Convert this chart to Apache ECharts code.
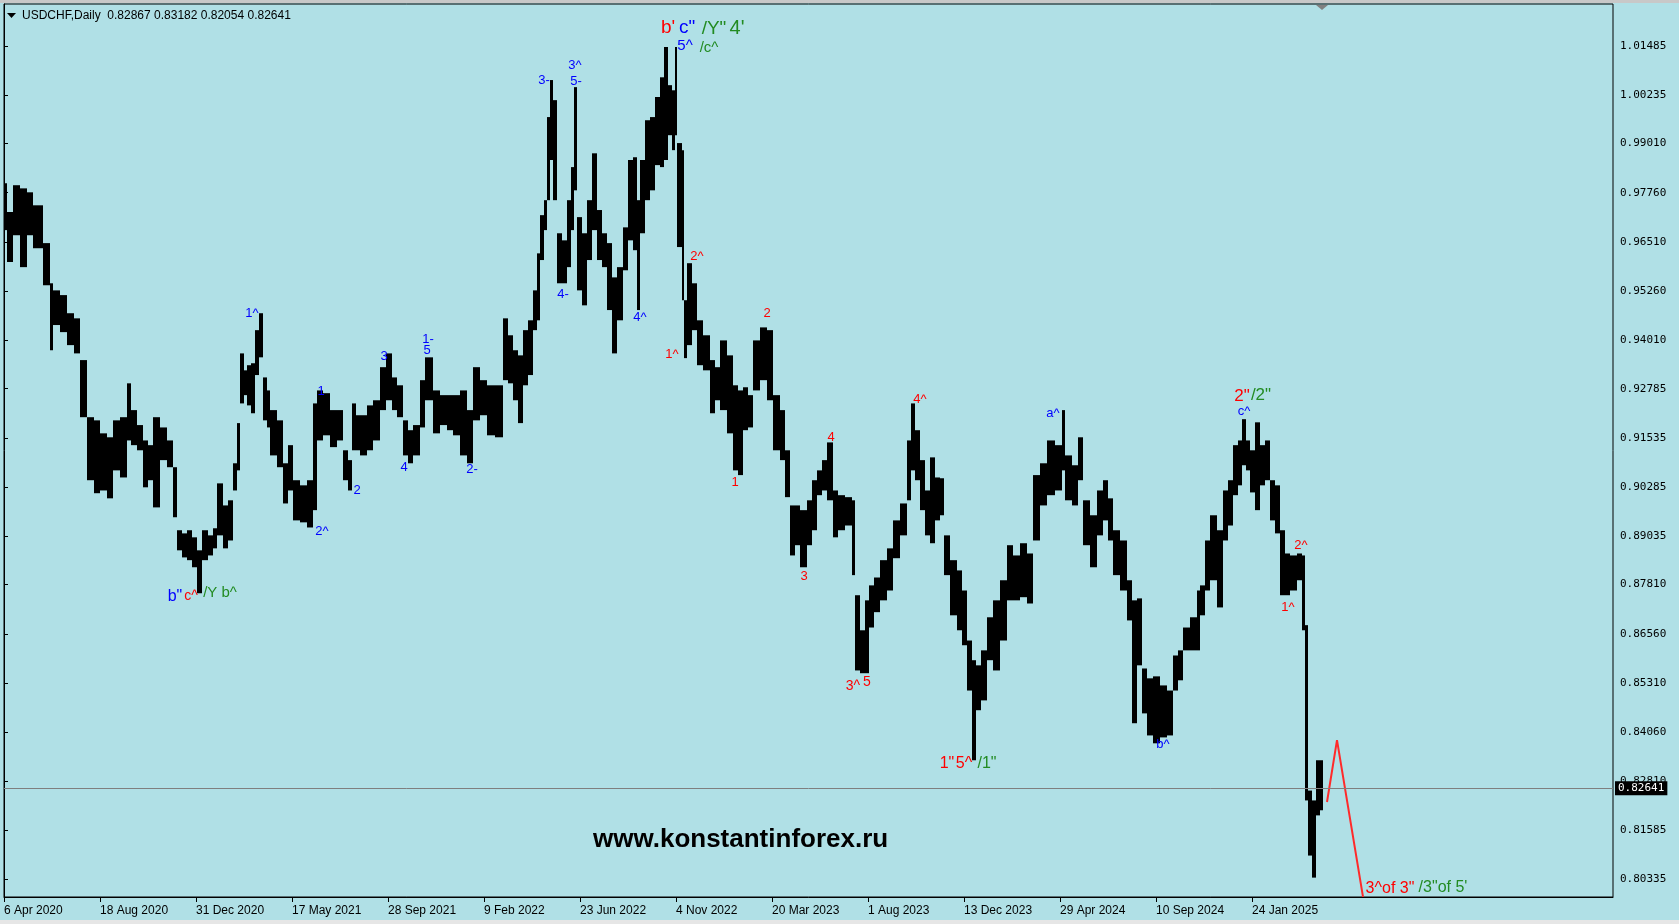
<!DOCTYPE html>
<html><head><meta charset="utf-8">
<script src="https://cdn.jsdelivr.net/npm/echarts@6/dist/echarts.min.js"></script>
<style>html,body{margin:0;padding:0;background:#B0E0E6;overflow:hidden}#c{width:1679px;height:924px}</style>
</head><body><div id="c"></div>
<script>
// ---------------- DATA ----------------
const symbolName = 'USDCHF,Daily';
const lastOHLC = ['0.82867', '0.83182', '0.82054', '0.82641'];
const lastClose = 0.82641;

const dateTickIdx = [0, 96, 192, 288, 384, 480, 576, 672, 768, 864, 960, 1056, 1152, 1248];
const dateLabels = ['6 Apr 2020', '18 Aug 2020', '31 Dec 2020', '17 May 2021', '28 Sep 2021', '9 Feb 2022',
  '23 Jun 2022', '4 Nov 2022', '20 Mar 2023', '1 Aug 2023', '13 Dec 2023', '29 Apr 2024', '10 Sep 2024', '24 Jan 2025'];
const priceTicks = [1.01485, 1.00235, 0.99010, 0.97760, 0.96510, 0.95260, 0.94010, 0.92785, 0.91535,
  0.90285, 0.89035, 0.87810, 0.86560, 0.85310, 0.84060, 0.82810, 0.81585, 0.80335];

// price bars: each group of daily bars starts at barStart (bar number) and spans to the next start
const barStart = [
  0,3,9,16,23,29,39,46,49,56,
  63,70,76,83,90,96,103,109,116,123,
  127,133,139,144,149,156,163,169,173,178,
  183,188,193,198,204,209,213,219,224,229,
  233,236,240,243,247,251,255,259,263,266,
  273,279,284,289,296,303,309,313,319,326,
  333,339,344,348,352,356,363,369,376,382,
  388,393,399,404,409,416,421,429,436,443,
  449,456,463,469,476,483,491,499,504,509,
  514,519,524,529,533,536,540,543,546,549,
  553,558,563,567,570,573,578,583,588,593,
  598,603,608,613,619,624,629,633,636,641,
  646,651,656,660,664,668,671,673,678,680,
  683,688,693,699,706,711,716,723,729,734,
  739,744,749,756,763,769,776,781,786,791,
  796,803,808,813,818,823,829,834,841,848,
  851,856,861,865,870,876,883,889,896,903,
  907,911,916,921,926,931,936,940,946,953,
  958,963,968,972,977,983,989,996,1003,1009,
  1016,1023,1029,1036,1043,1051,1058,1061,1068,1074,
  1079,1086,1093,1099,1104,1109,1116,1123,1128,1133,
  1138,1143,1149,1156,1163,1169,1174,1179,1186,1193,
  1196,1201,1206,1213,1219,1224,1229,1234,1238,1242,
  1246,1251,1256,1261,1266,1271,1276,1281,1286,1293,
  1298,1301,1304,1308,1312,1316];
const lastBarEnd = 1319;
const barHigh = [
  0.9800,0.9727,0.9795,0.9787,0.9777,0.9744,0.9648,0.9546,0.9528,0.9516,
  0.9470,0.9457,0.9351,0.9206,0.9198,0.9165,0.9155,0.9198,0.9206,0.9292,
  0.9224,0.9186,0.9147,0.9135,0.9206,0.9180,0.9147,0.9079,0.8919,0.8911,
  0.8919,0.8901,0.8868,0.8919,0.8906,0.8924,0.9038,0.8982,0.8995,0.9089,
  0.9191,0.9368,0.9325,0.9338,0.9343,0.9427,0.9470,0.9307,0.9274,0.9224,
  0.9198,0.9089,0.9135,0.9046,0.9033,0.9046,0.9241,0.9274,0.9267,0.9224,
  0.9224,0.9122,0.9097,0.9241,0.9211,0.9211,0.9236,0.9249,0.9333,0.9368,
  0.9307,0.9287,0.9198,0.9173,0.9186,0.9300,0.9358,0.9274,0.9262,0.9262,
  0.9262,0.9274,0.9224,0.9333,0.9300,0.9287,0.9287,0.9457,0.9414,0.9376,
  0.9363,0.9427,0.9452,0.9528,0.9622,0.9719,0.9757,0.9968,1.0062,1.0011,
  0.9673,0.9655,0.9757,0.9841,1.0044,0.9714,0.9673,0.9757,0.9876,0.9732,
  0.9673,0.9648,0.9561,0.9587,0.9688,0.9859,0.9866,0.9757,0.9859,0.9960,
  0.9968,1.0019,1.0069,1.0146,1.0049,1.0036,1.0146,0.9902,0.9884,0.9503,
  0.9597,0.9546,0.9452,0.9414,0.9351,0.9333,0.9401,0.9363,0.9287,0.9274,
  0.9282,0.9262,0.9401,0.9434,0.9427,0.9262,0.9224,0.9122,0.8982,0.8982,
  0.8970,0.8995,0.9046,0.9071,0.9097,0.9142,0.9020,0.9008,0.9003,0.8995,
  0.8754,0.8665,0.8741,0.8779,0.8799,0.8843,0.8873,0.8944,0.8987,0.9147,
  0.9241,0.9173,0.9097,0.9020,0.9104,0.9053,0.9051,0.8906,0.8843,0.8817,
  0.8766,0.8639,0.8589,0.8576,0.8614,0.8698,0.8741,0.8792,0.8881,0.8855,
  0.8886,0.8860,0.9059,0.9089,0.9147,0.9135,0.9224,0.9109,0.9084,0.9155,
  0.8995,0.8957,0.9020,0.9046,0.9000,0.8919,0.8893,0.8792,0.8741,0.8746,
  0.8568,0.8543,0.8548,0.8525,0.8512,0.8601,0.8614,0.8672,0.8698,0.8766,
  0.8779,0.8893,0.8957,0.8919,0.9020,0.9046,0.9135,0.9147,0.9201,0.9147,
  0.9122,0.9193,0.9135,0.9147,0.9046,0.9033,0.8919,0.8860,0.8855,0.8860,
  0.8855,0.8678,0.8258,0.8233,0.8335,0.8335];
const barLow = [
  0.9681,0.9600,0.9668,0.9587,0.9668,0.9635,0.9541,0.9376,0.9440,0.9422,
  0.9389,0.9368,0.9206,0.9046,0.9013,0.9020,0.9000,0.9071,0.9053,0.9147,
  0.9135,0.9122,0.9028,0.9046,0.8977,0.9097,0.9079,0.8952,0.8868,0.8850,
  0.8843,0.8825,0.8759,0.8843,0.8855,0.8873,0.8906,0.8873,0.8893,0.9020,
  0.9071,0.9241,0.9262,0.9236,0.9216,0.9313,0.9358,0.9198,0.9180,0.9109,
  0.9079,0.8987,0.9020,0.8944,0.8939,0.8926,0.8970,0.9147,0.9160,0.9130,
  0.9147,0.9046,0.9020,0.9122,0.9122,0.9109,0.9122,0.9147,0.9224,0.9249,
  0.9224,0.9206,0.9109,0.9089,0.9109,0.9180,0.9249,0.9165,0.9186,0.9173,
  0.9160,0.9109,0.9089,0.9198,0.9211,0.9160,0.9155,0.9300,0.9292,0.9249,
  0.9191,0.9287,0.9313,0.9427,0.9452,0.9605,0.9681,0.9757,0.9859,0.9757,
  0.9546,0.9546,0.9587,0.9681,0.9782,0.9528,0.9490,0.9605,0.9681,0.9605,
  0.9587,0.9478,0.9368,0.9452,0.9579,0.9655,0.9630,0.9478,0.9673,0.9757,
  0.9782,0.9846,0.9841,0.9859,0.9922,0.9884,0.9922,0.9638,0.9503,0.9356,
  0.9389,0.9427,0.9338,0.9325,0.9216,0.9249,0.9224,0.9165,0.9071,0.9059,
  0.9173,0.9180,0.9274,0.9300,0.9249,0.9122,0.9097,0.9003,0.8855,0.8881,
  0.8825,0.8881,0.8919,0.9008,0.9020,0.8995,0.8901,0.8919,0.8931,0.8805,
  0.8563,0.8556,0.8556,0.8672,0.8711,0.8741,0.8766,0.8848,0.8906,0.8995,
  0.9071,0.9046,0.8970,0.8906,0.8886,0.8944,0.8957,0.8805,0.8703,0.8665,
  0.8627,0.8512,0.8335,0.8462,0.8487,0.8589,0.8563,0.8639,0.8741,0.8741,
  0.8749,0.8733,0.8893,0.8982,0.9008,0.9020,0.9071,0.8995,0.8982,0.9046,
  0.8881,0.8825,0.8906,0.8944,0.8893,0.8805,0.8766,0.8690,0.8429,0.8576,
  0.8454,0.8398,0.8378,0.8393,0.8398,0.8512,0.8538,0.8614,0.8614,0.8614,
  0.8703,0.8766,0.8792,0.8723,0.8893,0.8931,0.9008,0.9033,0.9084,0.9071,
  0.9015,0.8970,0.9033,0.9046,0.8944,0.8911,0.8754,0.8754,0.8766,0.8792,
  0.8665,0.8233,0.8093,0.8037,0.8195,0.8208];

// red projection path
const projIdx = [1323, 1333, 1359];
const projPrice = [0.8229, 0.8386, 0.7988];

// wave annotations
const noteText = ['1^','1','2','3','4','2^','1-','5','2-','3-','3^','5-','4-','4^','5^','c"','a^','b^','c^','b"',
  "b'",'2^','1^','2','1','4','3','3^','5','4^','1"','5^','2"','2^','1^','c^','3^of 3"',
  '/Y"',"4'",'/c^','/1"','/2"','/Y b^','/3"of 5\''];
const noteIdx = [248,317,353,380,400,318,424,423,468,540,571,572,559,636,681,683,1049,1159,1240,171,
  664,693,668,763,731,827,800,849,863,916,943,960,1238,1297,1284,187,1386,
  710,733,705,983,1257,216,1439];
const notePrice = [0.9470,0.9272,0.9020,0.9361,0.9079,0.8916,0.9404,0.9376,0.9074,1.0062,1.0100,1.0059,0.9518,0.9460,1.0148,1.0194,0.9216,0.8375,0.9221,0.8751,
  1.0194,0.9615,0.9366,0.9470,0.9041,0.9155,0.8802,0.8523,0.8533,0.9252,0.8327,0.8327,0.9259,0.8881,0.8723,0.8751,0.8009,
  1.0191,1.0194,1.0143,0.8327,0.9262,0.8759,0.8012];

// ---------------- STYLE ----------------
const BLUE = '#0000ff', RED = '#ff0000', GREEN = '#228b22';
const noteColor = [];
for (let i = 0; i < noteText.length; i++) noteColor.push(i < 20 ? BLUE : (i < 37 ? RED : GREEN));
const noteSize = [13,13,13,13,13,13,13,13,13,13,13,13,13,13,15,19,13,13,13,16,
  19,13,13,13,13,13,13,14,14,13,16,16,17,13,13,14,16,
  19,20,15,16,17,15,16];

const barData = barStart.map((s, i) => [s, i + 1 < barStart.length ? barStart[i + 1] : lastBarEnd, barHigh[i], barLow[i]]);
const noteData = noteIdx.map((x, i) => [x, notePrice[i]]);
const projData = projIdx.map((x, i) => [x, projPrice[i]]);

const chart = echarts.init(document.getElementById('c'), null, { renderer: 'canvas' });
chart.setOption({
  animation: false,
  backgroundColor: '#B0E0E6',
  title: [
    { text: symbolName + '  ' + lastOHLC.join(' '), left: 22, top: 10, padding: 0,
      textStyle: { fontFamily: 'Liberation Sans, Arial, sans-serif', fontSize: 12, fontWeight: 'normal', color: '#000' } },
    { text: 'www.konstantinforex.ru', left: 593, top: 825, padding: 0,
      textStyle: { fontFamily: 'Liberation Sans, Arial, sans-serif', fontSize: 26, fontWeight: 'bold', color: '#000', lineHeight: 30 } }
  ],
  graphic: [
    { type: 'rect', shape: { x: 0, y: 0, width: 1679, height: 3 }, style: { fill: '#c8c8c8' }, silent: true },
    { type: 'rect', shape: { x: 0, y: 920, width: 1679, height: 4 }, style: { fill: '#e6e6e6' }, silent: true },
    { type: 'polygon', shape: { points: [[7, 13], [16, 13], [11.5, 18]] }, style: { fill: '#000' }, silent: true },
    { type: 'polygon', shape: { points: [[1316, 5], [1328, 5], [1322, 10]] }, style: { fill: '#808080' }, silent: true, z: 100 }
  ],
  grid: { left: 4, right: 66, top: 4, bottom: 27, show: true, borderColor: '#000', borderWidth: 1, backgroundColor: 'transparent' },
  xAxis: {
    type: 'value', min: 0, max: 1609,
    axisLine: { show: true, lineStyle: { color: '#000', width: 1 } },
    axisTick: { show: true, customValues: dateTickIdx, length: 5, lineStyle: { color: '#000' } },
    axisLabel: { show: true, customValues: dateTickIdx, formatter: v => dateLabels[dateTickIdx.indexOf(Math.round(v))] || '',
      align: 'left', margin: 8, color: '#000', fontFamily: 'Liberation Sans, Arial, sans-serif', fontSize: 12, hideOverlap: false },
    splitLine: { show: false }
  },
  yAxis: {
    type: 'value', position: 'right', min: 0.79878, max: 1.02551, scale: true,
    axisLine: { show: true, lineStyle: { color: '#000', width: 1 } },
    axisTick: { show: true, customValues: priceTicks, length: 4, lineStyle: { color: '#000' } },
    axisLabel: { show: true, customValues: priceTicks, formatter: v => Number(v).toFixed(5), margin: 7,
      color: '#000', fontFamily: 'DejaVu Sans Mono, monospace', fontSize: 11, hideOverlap: false },
    splitLine: { show: false }
  },
  series: [
    {
      type: 'custom', name: 'bars', data: barData, clip: true, z: 2,
      encode: { x: [0, 1], y: [2, 3] },
      renderItem: (params, api) => {
        const p1 = api.coord([api.value(0), api.value(2)]);
        const p2 = api.coord([api.value(1), api.value(3)]);
        return { type: 'rect', shape: { x: p1[0], y: p1[1], width: Math.max(1, p2[0] - p1[0]), height: Math.max(1, p2[1] - p1[1]) },
          style: { fill: '#000' } };
      }
    },
    {
      type: 'line', name: 'projection', data: projData, symbol: 'none', clip: true, z: 3,
      lineStyle: { color: '#ff2a2a', width: 2 },
      markLine: {
        silent: true, symbol: ['none', 'none'], animation: false, precision: 5,
        data: [{ yAxis: lastClose }],
        lineStyle: { color: '#7f7f7f', width: 1, type: 'solid' },
        label: { show: true, position: 'end', distance: 2, formatter: () => lastClose.toFixed(5),
          backgroundColor: '#000', color: '#fff', padding: [2, 3, 1, 3], fontFamily: 'DejaVu Sans Mono, monospace', fontSize: 11 }
      }
    },
    {
      type: 'custom', name: 'notes', data: noteData, clip: false, z: 5,
      encode: { x: 0, y: 1 },
      renderItem: (params, api) => {
        const i = params.dataIndex;
        const p = api.coord([api.value(0), api.value(1)]);
        return { type: 'text', x: p[0], y: p[1],
          style: { text: noteText[i], fill: noteColor[i], align: 'center', verticalAlign: 'middle',
            font: noteSize[i] + 'px "Liberation Sans", Arial, sans-serif' } };
      }
    }
  ]
});
</script>
</body></html>
